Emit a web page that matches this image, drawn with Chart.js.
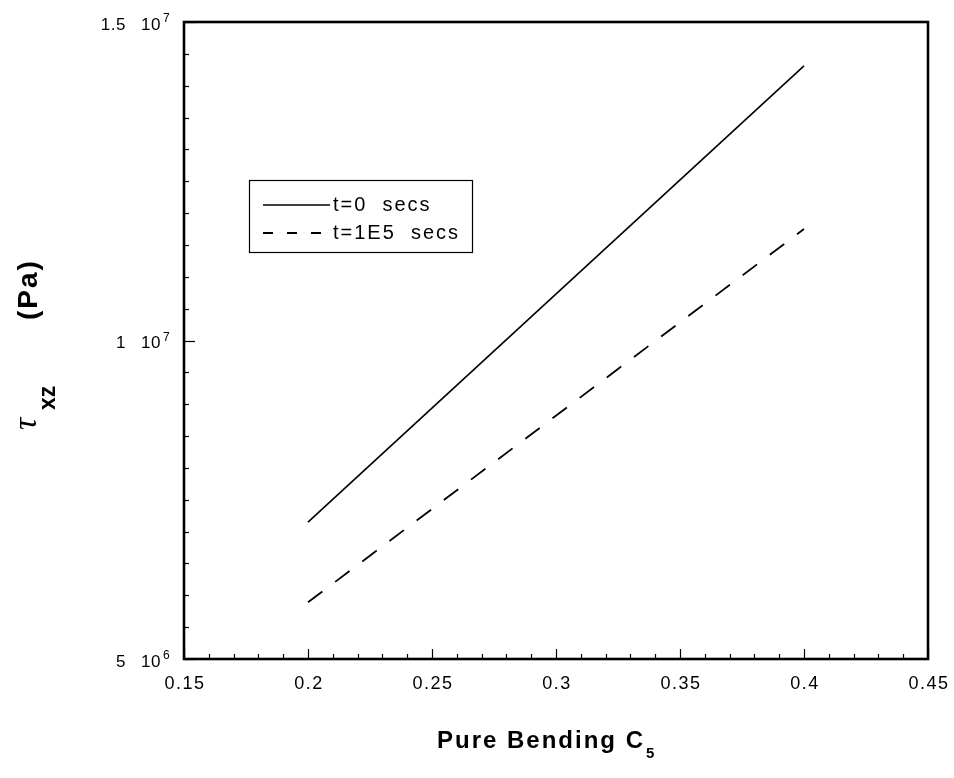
<!DOCTYPE html>
<html><head><meta charset="utf-8">
<script src="https://cdn.jsdelivr.net/npm/chart.js@4.4.1/dist/chart.umd.min.js"></script>
<style>html,body{margin:0;padding:0;background:#fff}</style>
</head><body>
<canvas id="c" width="954" height="778"></canvas>
<script>
// ---- data ----
const c5 = [0.2, 0.4];
const tauT0 = [7.15e6, 1.431e7];
const tauT1E5 = [5.89e6, 1.175e7];
const seriesLabels = ['t=0  secs', 't=1E5  secs'];
const xTickValues = [0.15, 0.2, 0.25, 0.3, 0.35, 0.4, 0.45];
const xTickLabels = ['0.15', '0.2', '0.25', '0.3', '0.35', '0.4', '0.45'];
const yTickValues = [5e6, 1e7, 1.5e7];
const yTickMantissa = ['5', '1', '1.5'];
const yTickExponent = ['6', '7', '7'];
const xTitle = 'Pure Bending C';
const xTitleSub = '5';

const X_MIN = 0.15, X_MAX = 0.45, X_MINOR = 0.01;
const Y_MIN = 5e6, Y_MAX = 1.5e7, Y_MINOR = 5e5;
const FONT = '"Liberation Sans", Arial, sans-serif';

const decor = {
  id: 'decor',
  afterDraw(chart) {
    const ctx = chart.ctx, a = chart.chartArea;
    const xs = chart.scales.x, ys = chart.scales.y;
    ctx.save();
    ctx.strokeStyle = '#000';
    ctx.fillStyle = '#000';
    // frame
    ctx.lineWidth = 2.6;
    ctx.strokeRect(a.left, a.top, a.right - a.left, a.bottom - a.top);
    // x ticks (bottom, inward)
    ctx.lineWidth = 1.2;
    const nx = Math.round((X_MAX - X_MIN) / X_MINOR);
    for (let i = 0; i <= nx; i++) {
      const v = X_MIN + i * X_MINOR;
      const px = Math.round(xs.getPixelForValue(v)) + 0.5;
      const len = (i % 5 === 0) ? 10 : 5;
      ctx.beginPath(); ctx.moveTo(px, a.bottom); ctx.lineTo(px, a.bottom - len); ctx.stroke();
    }
    // y ticks (left, inward)
    const ny = Math.round((Y_MAX - Y_MIN) / Y_MINOR);
    for (let i = 0; i <= ny; i++) {
      const v = Y_MIN + i * Y_MINOR;
      const py = Math.round(ys.getPixelForValue(v)) + 0.5;
      const len = (i % 10 === 0) ? 11 : 5;
      ctx.beginPath(); ctx.moveTo(a.left, py); ctx.lineTo(a.left + len, py); ctx.stroke();
    }
    // x tick labels
    ctx.font = '18px ' + FONT;
    ctx.letterSpacing = '1.5px';
    ctx.textAlign = 'center';
    ctx.textBaseline = 'middle';
    xTickValues.forEach((v, i) => {
      ctx.fillText(xTickLabels[i], xs.getPixelForValue(v) + 1, a.bottom + 25);
    });
    // y tick labels  "m  10^e"
    ctx.letterSpacing = '0.5px';
    yTickValues.forEach((v, i) => {
      const py = ys.getPixelForValue(v) + 3;
      ctx.font = '17px ' + FONT;
      ctx.textAlign = 'right';
      ctx.textBaseline = 'middle';
      ctx.fillText(yTickMantissa[i], a.left - 58, py);
      ctx.fillText('10', a.left - 23, py);
      ctx.font = '12px ' + FONT;
      ctx.textAlign = 'left';
      ctx.textBaseline = 'alphabetic';
      ctx.fillText(yTickExponent[i], a.left - 21, py - 3);
    });
    // x title
    ctx.font = 'bold 24px ' + FONT;
    ctx.letterSpacing = '2px';
    ctx.textAlign = 'left';
    ctx.textBaseline = 'alphabetic';
    ctx.fillText(xTitle, 437, 748);
    const w = ctx.measureText(xTitle).width;
    ctx.font = 'bold 15px ' + FONT;
    ctx.letterSpacing = '0px';
    ctx.fillText(xTitleSub, 437 + w + 1, 758);
    // y title (rotated)
    ctx.save();
    ctx.translate(36, 430);
    ctx.rotate(-Math.PI / 2);
    ctx.font = 'italic 34px "Liberation Serif", "DejaVu Serif", serif';
    ctx.letterSpacing = '0px';
    ctx.fillText('\u03C4', 0, 0);
    ctx.font = 'bold 23px ' + FONT;
    ctx.fillText('xz', 20, 19);
    ctx.font = 'bold 28px ' + FONT;
    ctx.letterSpacing = '2px';
    ctx.fillText('(Pa)', 110, 1);
    ctx.restore();
    // legend
    const lx = a.left + 65, ly = a.top + 158, lw = 223, lh = 72;
    ctx.lineWidth = 1.2;
    ctx.setLineDash([]);
    ctx.strokeRect(lx + 0.5, ly + 0.5, lw, lh);
    chart.data.datasets.forEach((ds, i) => {
      const ry = ly + 25 + i * 28;
      ctx.lineWidth = ds.borderWidth;
      ctx.setLineDash(i === 0 ? [] : [10, 14]);
      ctx.beginPath(); ctx.moveTo(lx + 14, ry); ctx.lineTo(lx + 81, ry); ctx.stroke();
      ctx.setLineDash([]);
      ctx.font = '20px ' + FONT;
      ctx.letterSpacing = '2px';
      ctx.textAlign = 'left';
      ctx.textBaseline = 'middle';
      ctx.fillText(ds.label, lx + 84, ry);
    });
    ctx.restore();
  }
};

new Chart(document.getElementById('c'), {
  type: 'scatter',
  data: {
    datasets: [
      {
        label: seriesLabels[0],
        data: c5.map((x, i) => ({ x, y: tauT0[i] })),
        showLine: true, borderColor: '#000', borderWidth: 1.6,
        pointRadius: 0, fill: false
      },
      {
        label: seriesLabels[1],
        data: c5.map((x, i) => ({ x, y: tauT1E5[i] })),
        showLine: true, borderColor: '#000', borderWidth: 1.8,
        borderDash: [18, 16], pointRadius: 0, fill: false
      }
    ]
  },
  options: {
    responsive: false,
    animation: false,
    devicePixelRatio: 1,
    layout: { padding: { left: 184, top: 22, right: 26, bottom: 119 } },
    plugins: { legend: { display: false }, tooltip: { enabled: false } },
    scales: {
      x: { type: 'linear', min: X_MIN, max: X_MAX, display: false },
      y: { type: 'linear', min: Y_MIN, max: Y_MAX, display: false }
    }
  },
  plugins: [decor]
});
</script>
</body></html>
